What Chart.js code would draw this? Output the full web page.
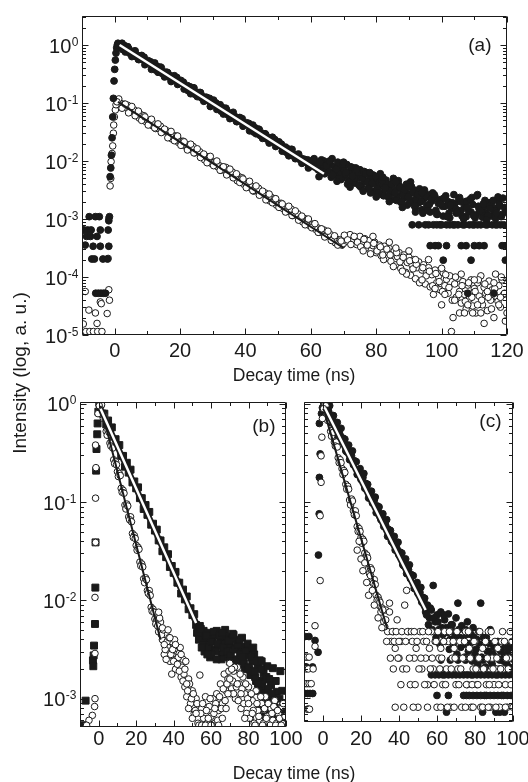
<!DOCTYPE html>
<html><head><meta charset="utf-8">
<script src="https://cdn.jsdelivr.net/npm/chart.js@4.4.1/dist/chart.umd.min.js"></script>
<style>
html,body{margin:0;padding:0;background:#fff;width:528px;height:782px;overflow:hidden}
canvas{position:absolute;left:0;top:0}
</style></head><body>
<canvas id="ca" width="528" height="782"></canvas>
<canvas id="cb" width="528" height="782"></canvas>
<canvas id="cc" width="528" height="782"></canvas>
<script>
// ---------------- DATA (log10 of normalised intensity) ----------------
// Panel (a): main traces sampled every 0.5 ns from 1 ns
const aStep = 0.5, aStart = 1;
const aFilledLog = [
0.03,-0.02,0.00,-0.08,-0.01,-0.07,-0.03,-0.14,-0.11,-0.11,
-0.11,-0.20,-0.18,-0.25,-0.19,-0.25,-0.21,-0.31,-0.29,-0.29,
-0.29,-0.38,-0.35,-0.43,-0.37,-0.43,-0.38,-0.49,-0.47,-0.47,
-0.47,-0.55,-0.53,-0.61,-0.55,-0.60,-0.56,-0.67,-0.65,-0.65,
-0.64,-0.73,-0.71,-0.79,-0.72,-0.78,-0.74,-0.85,-0.82,-0.82,
-0.82,-0.91,-0.89,-0.96,-0.90,-0.96,-0.92,-1.02,-1.00,-1.00,
-1.00,-1.09,-1.06,-1.14,-1.08,-1.14,-1.09,-1.20,-1.18,-1.18,
-1.18,-1.26,-1.24,-1.32,-1.26,-1.31,-1.27,-1.38,-1.36,-1.36,
-1.35,-1.44,-1.42,-1.50,-1.43,-1.49,-1.45,-1.56,-1.53,-1.53,
-1.53,-1.62,-1.60,-1.67,-1.61,-1.67,-1.63,-1.73,-1.71,-1.71,
-1.71,-1.80,-1.77,-1.85,-1.79,-1.85,-1.80,-1.91,-1.89,-1.89,
-1.89,-1.97,-1.95,-2.03,-1.97,-2.02,-1.98,-2.09,-2.07,
-2.05,-1.96,-2.08,-2.02,-2.27,-2.04,-2.12,-2.00,-2.15,-2.09,
-2.18,-2.06,-1.96,-2.20,-2.11,-2.25,-2.08,-2.19,-2.30,-2.14,
-2.24,-2.06,-2.33,-2.18,-2.27,-2.12,-2.38,-2.22,-2.30,-2.15,
-2.42,-2.26,-2.35,-2.20,-2.47,-2.31,-2.40,-2.24,-2.52,-2.36,
-2.45,-2.29,-2.57,-2.40,-2.50,-2.33,-2.61,-2.44,-2.55,-2.38,
-2.66,-2.49,-2.60,-2.42,-2.71,-2.53,-2.64,-2.46,-2.76,-2.57,
-2.36,-2.68,-2.50,-2.80,-2.61,-2.72,-2.54,-2.84,-2.65,-3.10,
-2.76,-2.58,-2.88,-2.69,-3.10,-2.62,-2.92,-2.73,-3.10,-2.66,
-2.95,-2.78,-3.10,-2.70,-2.98,-2.82,-3.10,-2.74,-2.90,-3.10,
-2.63,-2.85,-3.10,-2.77,-2.96,-2.69,-3.10,-2.88,-2.75,-3.10,
-2.93,-2.58,-2.83,-3.10,-2.97,-2.79,-2.90,-3.10,-2.72,-2.95,
-3.10,-2.86,-2.99,-2.81,-2.71,-3.10,-2.92,-3.10,-2.84
];
// second filled decay trace, every 1 ns from 1.25 ns
const aFilledDecay2Start = 1.25;
const aFilledDecay2Log = [
-0.05,0.03,-0.12,-0.06,-0.20,-0.10,-0.25,-0.18,-0.34,-0.27,
-0.42,-0.31,-0.47,-0.39,-0.55,-0.48,-0.63,-0.53,-0.68,-0.61,
-0.76,-0.70,-0.84,-0.74,-0.89,-0.82,-0.97,-0.91,-1.06,-0.95,
-1.11,-1.03,-1.19,-1.12,-1.27,-1.16,-1.32,-1.25,-1.40,-1.34,
-1.48,-1.38,-1.53,-1.46,-1.61,-1.55,-1.69,-1.59,-1.75,-1.67,
-1.83,-1.76,-1.91,-1.80,-1.96,-1.88,-2.04,-1.98,-2.12
];
// extra filled tail traces, every 1 ns
const aFilledTail2Start = 62.25;
const aFilledTail2Log = [
-2.15,-1.98,-2.22,-2.05,-2.28,-2.10,-2.02,-2.32,-2.16,-2.40,
-2.10,-2.30,-2.20,-2.45,-2.18,-2.36,-2.55,-2.30,-2.48,-2.22,
-2.60,-2.40,-2.52,-2.30,-2.68,-2.45,-2.58,-2.40,-2.72,-2.55,
-2.66,-2.48,-2.90,-2.62,-2.75,-2.55,-2.85,-2.68,-2.78,-2.60,
-2.90,-2.72,-2.82,-2.66,-2.95,-2.70,-2.86,-2.63,-2.98,-2.78,
-2.88,-2.68,-2.94,-2.76,-2.85,-2.62,-2.96,-2.80
];
const aFilledTail3Start = 60.75;
const aFilledTail3Log = [
-1.98,-2.10,-2.02,-2.18,-2.08,-2.00,-2.24,-2.14,-2.30,-2.06,
-2.20,-2.36,-2.26,-2.12,-2.42,-2.30,-2.22,-2.48,-2.38,-2.26,
-2.54,-2.34,-2.46,-2.62,-2.40,-2.55,-2.34,-2.70,-2.50,-2.62,
-2.44,-2.78,-2.58,-2.70,-2.50,-2.85,-2.66,-2.58,-2.92,-2.74,
-2.64,-2.96,-2.76,-2.58,-2.88,-2.70,-3.00,-2.80,-2.66,-2.94,
-2.60,-2.86,-2.74,-3.02,-2.82,-2.68,-2.90,-2.76,-2.64,-2.88
];
const aOpenLog = [
-0.95,-1.03,-1.01,-1.08,-1.02,-1.08,-1.04,-1.15,-1.12,-1.12,
-1.12,-1.21,-1.19,-1.26,-1.20,-1.26,-1.22,-1.32,-1.30,-1.30,
-1.30,-1.39,-1.36,-1.44,-1.38,-1.44,-1.40,-1.50,-1.48,-1.48,
-1.48,-1.57,-1.54,-1.62,-1.56,-1.62,-1.57,-1.68,-1.66,-1.66,
-1.66,-1.74,-1.72,-1.80,-1.74,-1.80,-1.75,-1.86,-1.84,-1.84,
-1.84,-1.92,-1.90,-1.98,-1.92,-1.97,-1.93,-2.04,-2.02,-2.02,
-2.01,-2.10,-2.08,-2.16,-2.10,-2.15,-2.11,-2.22,-2.20,-2.20,
-2.19,-2.28,-2.26,-2.34,-2.27,-2.33,-2.29,-2.40,-2.38,-2.37,
-2.37,-2.46,-2.44,-2.52,-2.45,-2.51,-2.47,-2.58,-2.56,-2.55,
-2.55,-2.64,-2.62,-2.69,-2.63,-2.69,-2.65,-2.76,-2.73,-2.73,
-2.73,-2.82,-2.80,-2.87,-2.81,-2.87,-2.83,-2.94,-2.91,-2.91,
-2.91,-3.00,-2.97,-3.05,-2.99,-3.05,-3.01,-3.11,-3.09,-3.09,
-3.09,-3.18,-3.15,-3.23,-3.17,-3.23,-3.19,-3.29,-3.27,-3.27,
-3.27,-3.36,-3.33,-3.41,-3.35,-3.41,-3.36,-3.45,-3.42,
-3.30,-3.38,-3.32,-3.27,-3.40,-3.35,-3.31,-3.44,-3.36,-3.30,
-3.47,-3.39,-3.34,-3.50,-3.42,-3.37,-3.54,-3.46,-3.40,-3.58,
-3.49,-3.45,-3.63,-3.53,-3.47,-3.68,-3.57,-3.51,-3.73,-3.60,
-3.55,-3.79,-3.65,-3.58,-3.85,-3.70,-3.62,-3.92,-3.75,-3.66,
-3.97,-3.80,-3.70,-4.03,-3.84,-3.74,-4.08,-3.88,-3.79,-4.12,
-3.92,-3.84,-4.17,-3.96,-4.30,-3.88,-4.10,-3.99,-4.22,-4.48,
-3.93,-4.15,-4.04,-4.28,-3.98,-4.94,-4.70,-4.12,-4.35,-4.02,
-4.25,-4.45,-4.08,-4.30,-4.55,-4.14,-4.38,-4.05,-4.50,-4.20,
-4.62,-4.10,-4.33,-3.98,-4.48,-4.18,-4.28,-4.58,-4.07,-4.40,
-4.22,-4.70,-3.95,-4.36,-4.15,-4.52,-4.05,-4.30,-4.76
];
const aOpenDecay2Start = 1.25;
const aOpenDecay2Log = [
-0.93,-1.09,-1.02,-1.17,-1.06,-1.22,-1.14,-1.30,-1.24,-1.38,
-1.28,-1.43,-1.36,-1.51,-1.45,-1.60,-1.49,-1.65,-1.57,-1.73,
-1.67,-1.81,-1.71,-1.86,-1.79,-1.94,-1.88,-2.03,-1.92,-2.08,
-2.00,-2.16,-2.10,-2.24,-2.14,-2.29,-2.22,-2.37,-2.31,-2.46,
-2.35,-2.51,-2.43,-2.59,-2.52,-2.67,-2.57,-2.72,-2.65,-2.80,
-2.74,-2.88,-2.78,-2.94,-2.86,-3.02,-2.95,-3.10,-3.00,-3.15,
-3.08,-3.23,-3.17,-3.31,-3.21,-3.37,-3.29,-3.45,-3.38
];
const aOpenTail2Start = 70.25;
const aOpenTail2Log = [
-3.28,-3.36,-3.44,-3.30,-3.40,-3.48,-3.35,-3.45,-3.60,-3.42,
-3.55,-3.48,-3.70,-3.52,-3.62,-3.82,-3.58,-3.74,-3.66,-3.95,
-3.72,-3.86,-3.78,-4.10,-3.84,-3.98,-3.90,-4.15,-3.94,-4.08,
-4.25,-3.96,-4.18,-4.40,-4.00,-4.30,-4.15,-4.42,-4.10,-4.35,
-4.25,-4.05,-4.40,-4.12,-4.35,-4.55,-4.20,-4.42,-4.00,-4.28
];
// extra (time ns, log10) points: rise, pre-pulse background, quantised tail levels
const aFilledExtra = [
[-1.4,-2.27],[-1.2,-2.12],[-1.0,-1.90],[-0.8,-1.60],[-0.6,-1.24],[-0.4,-0.92],[-0.2,-0.62],[0.0,-0.42],[0.2,-0.26],[0.4,-0.14],[0.6,-0.05],[0.8,0.00],
[-9.8,-3.19],[-9.4,-3.19],[-9.0,-3.45],[-8.6,-3.30],[-8.3,-3.19],[-7.8,-2.96],[-7.4,-3.30],[-7.2,-3.19],[-7.0,-3.69],[-6.6,-3.47],[-6.2,-3.69],[-5.9,-2.96],[-5.8,-4.28],[-5.4,-3.30],[-5.0,-4.28],[-4.7,-2.96],[-4.4,-3.19],[-4.4,-3.47],[-4.2,-4.28],[-3.6,-3.69],[-3.4,-4.28],[-2.8,-4.28],[-2.2,-3.69],[-2.0,-3.19],[-1.8,-3.03],[-1.8,-3.47],[-1.6,-2.96],
[96.5,-3.46],[98,-3.46],[99,-3.46],[100.5,-3.71],[101.5,-3.46],[104,-3.10],[106,-3.46],[107.5,-3.46],[108,-4.28],[109,-3.71],[110,-3.46],[111.5,-3.46],[113,-3.46],[116,-4.28],[118.5,-3.46],[119.5,-3.71],[120,-3.46],[102.5,-3.10],[91,-3.10],[93,-3.10],[96,-3.10],[98.5,-3.10],[100,-3.10],[107,-3.10],[109.5,-3.10],[111,-3.10],[113.5,-3.10],[116.5,-3.10],[117,-3.10],
[68,-2.35],[72,-2.45],[76,-2.52],[80,-2.62],[84,-2.70],[88,-2.80],[92,-2.88],[70,-2.02],[74,-2.15],[78,-2.20],[82,-2.28],[86,-2.36],[90,-2.45],[94,-2.55]
];
const aOpenExtra = [
[-1.4,-2.43],[-1.2,-2.30],[-1.1,-2.01],[-0.8,-1.87],[-0.6,-1.74],[-0.4,-1.52],[-0.3,-1.38],[-0.1,-1.24],[0.2,-1.12],[0.4,-1.03],[0.7,-0.98],
[-9.6,-4.81],[-9.0,-4.25],[-8.8,-4.94],[-7.9,-4.57],[-7.6,-4.94],[-6.5,-4.94],[-5.9,-4.62],[-5.4,-4.80],[-5.2,-4.94],[-4.4,-4.43],[-4.1,-4.46],[-3.9,-4.94],[-2.3,-4.63],[-1.8,-4.22],[-2.0,-3.68],[-1.8,-2.99],[-1.6,-4.40],
[76,-3.55],[79,-3.30],[82,-3.62],[84,-3.40],[86,-3.50],[88,-3.90],[90,-3.55],[92,-3.70],[94,-4.05],[96,-3.70],[98,-4.20],[100,-3.85],[101,-4.30],[104,-4.40],[106,-3.95],[108,-4.48],[110,-4.05],[112,-4.62],[114,-4.25],[116,-4.10],[118,-4.35],[120,-4.62],[105.5,-4.62],[107,-4.62],[109.5,-4.62],[111,-4.48],[117.5,-4.48],[113,-4.80]
];
const aFilledFit = [[1.5,0.00],[64,-2.22]];
const aOpenFit = [[1,-0.98],[70,-3.50]];

// Panels (b) and (c): main traces sampled every 1 ns from 1 ns
const bcStep = 1, bcStart = 1;
const bSquareLog = [
0.00,-0.10,-0.10,-0.21,-0.17,-0.27,-0.24,-0.37,-0.36,-0.43,
-0.42,-0.53,-0.53,-0.64,-0.60,-0.70,-0.67,-0.80,-0.79,-0.86,
-0.85,-0.96,-0.96,-1.07,-1.03,-1.13,-1.10,-1.23,-1.22,-1.29,
-1.28,-1.39,-1.39,-1.50,-1.46,-1.56,-1.53,-1.66,-1.65,-1.72,
-1.71,-1.82,-1.82,-1.93,-1.89,-1.99,-1.96,-2.09,-2.08,-2.15,
-2.14,-2.25,-2.30,-2.26,-2.36,-2.31,-2.42,-2.33,-2.45,-2.38,
-2.50,-2.35,-2.31,-2.46,-2.40,-2.55,-2.43,-2.37,-2.58,-2.45,
-2.39,-2.60,-2.48,-2.42,-2.65,-2.52,-2.47,-2.70,-2.56,-2.50,
-2.76,-2.62,-2.55,-2.82,-2.68,-2.61,-2.88,-2.74,-2.95,-2.67,
-3.02,-2.86,-2.69,-3.09,-2.93,-3.14,-2.72,-2.92,-3.20,-3.05
];
const bSquareTail2Start = 52.5;
const bSquareTail2Log = [
-2.33,-2.40,-2.29,-2.45,-2.52,-2.36,-2.48,-2.58,-2.42,-2.32,
-2.52,-2.44,-2.36,-2.60,-2.48,-2.30,-2.52,-2.41,-2.56,-2.34,
-2.50,-2.62,-2.45,-2.55,-2.38,-2.64,-2.52,-2.44,-2.70,-2.58,
-2.48,-2.78,-2.62,-2.92,-2.70,-2.82,-3.00,-2.78,-2.90,-3.12,
-2.95,-3.05,-2.82,-3.18,-3.00,-3.22,-3.08,-3.25
];
const bOpenLog = [
0.00,-0.11,-0.13,-0.28,-0.27,-0.40,-0.40,-0.57,-0.59,-0.69,
-0.71,-0.86,-0.88,-1.03,-1.02,-1.15,-1.15,-1.32,-1.34,-1.44,
-1.46,-1.61,-1.63,-1.78,-1.77,-1.90,-1.90,-2.07,-2.09,-2.19,
-2.20,-2.32,-2.22,-2.40,-2.55,-2.35,-2.48,-2.62,-2.42,-2.48,
-2.70,-2.52,-2.54,-2.78,-2.60,-2.88,-2.98,-2.80,-3.05,-2.92,
-3.15,-3.00,-3.25,-2.76,-3.10,-3.20,-2.98,-3.25,-3.08,-3.18,
-3.00,-3.25,-2.95,-3.12,-2.85,-3.05,-2.75,-2.92,-2.80,-2.64,
-2.90,-2.72,-3.00,-2.68,-2.85,-3.10,-2.78,-2.95,-3.15,-2.88,
-3.20,-3.02,-3.25,-2.92,-3.12,-3.22,-3.05,-3.25,-2.98,-3.18,
-3.25,-3.10,-3.22,-3.02,-3.25,-3.15,-3.22,-3.08,-3.25,-3.20
];
const bOpenHalfStart = 1.5;
const bOpenHalfLog = [
-0.01,-0.15,-0.16,-0.32,-0.29,-0.43,-0.45,-0.61,-0.62,-0.74,
-0.73,-0.90,-0.91,-1.07,-1.04,-1.18,-1.20,-1.36,-1.37,-1.49,
-1.48,-1.65,-1.66,-1.82,-1.79,-1.93,-1.95,-2.11,-2.12,-2.24,
-2.26,-2.18,-2.35,-2.30,-2.50,-2.42,-2.38,-2.55,-2.50,-2.40,
-2.60,-2.58,-2.48,-2.68,-2.75,-2.62,-2.92,-2.85,-3.00,-2.95,
-3.12,-3.05,-3.27,-3.15,-3.05,-3.27,-3.12,-3.20,-3.00,-3.27,
-3.15,-3.05,-3.22,-2.98,-3.10,-2.90,-3.02,-2.85,-2.72,-2.95,
-2.82,-2.68,-2.88,-3.02,-2.75,-2.90,-3.05,-2.85,-3.00,-3.20,
-2.95,-3.12,-3.27,-3.05,-3.18,-2.98,-3.27,-3.10,-3.20,-3.05,
-3.27,-3.15,-3.08,-3.27,-3.12,-3.20,-3.27,-3.05,-3.18
];
const bSquareExtra = [
[-7.9,-3.27],[-7.0,-3.02],[-3.1,-2.61],[-2.9,-2.67],[-2.7,-2.56],[-2.5,-2.46],[-2.0,-2.24],[-1.8,-1.87],[-1.7,-1.41],[-1.4,-0.68],[-1.2,-0.46],[-0.8,-0.31],[-0.6,-0.20],[-0.2,-0.08],[0.3,0.01],
[86,-3.10],[88,-3.18],[90,-3.22],[92,-3.14],[93,-3.25],[95,-3.20],[97,-3.28],[98,-3.12],[99,-3.27],[100,-3.18],[89,-3.29],[94,-3.27],
[60,-2.55],[66,-2.33],[70,-2.62],[75,-2.40],[80,-2.68],[55,-2.48],[58,-2.55],[63,-2.60],[72,-2.35],[77,-2.58],[83,-2.72],[85,-2.85],[87,-2.62],[91,-2.80]
];
const bOpenExtra = [
[-1.7,-0.42],[-1.5,-0.65],[-1.7,-0.96],[-1.7,-1.41],[-2.0,-1.97],[-2.0,-2.54],[-2.0,-3.00],[-2.2,-3.08],[-3.4,-3.17],[-5.2,-3.22],[-6.5,-3.27],[-0.4,-0.10],[0.3,-0.02],
[32,-2.12],[34,-2.28],[35,-2.45],[37,-2.30],[38,-2.38],[40,-2.62],[41,-2.45],[42,-2.65],[43,-2.72],[44,-2.55],[45,-2.82],[46,-2.70],[47,-2.85],[36,-2.60],[39,-2.75],
[48,-3.10],[50,-3.20],[52,-3.15],[55,-3.27],[57,-3.27],[60,-3.27],[62,-3.10],[64,-3.27],[66,-3.20],[68,-3.10],[70,-2.80],[72,-2.95],[74,-2.85],[76,-2.95],[78,-3.20],[80,-3.05],[82,-3.15],[71,-2.70],[69,-2.95]
];
const bSquareFit = [[1,-0.05],[52,-2.23]];
const bOpenFit = [[1,-0.02],[33,-2.40]];

const cFilledLog = [
0.00,-0.09,-0.08,-0.19,-0.15,-0.23,-0.20,-0.33,-0.32,-0.38,
-0.37,-0.48,-0.46,-0.57,-0.53,-0.62,-0.59,-0.72,-0.71,-0.77,
-0.75,-0.86,-0.85,-0.96,-0.92,-1.01,-0.98,-1.11,-1.09,-1.15,
-1.14,-1.25,-1.24,-1.35,-1.31,-1.40,-1.36,-1.49,-1.48,-1.54,
-1.53,-1.64,-1.63,-1.73,-1.69,-1.78,-1.75,-1.88,-1.87,-1.93,
-1.92,-2.02,-2.01,-2.12,-2.05,-2.18,-2.10,-1.85,-2.22,-2.15,
-2.30,-2.12,-2.35,-2.20,-2.28,-2.14,-2.40,-2.25,-2.32,-2.18,
-2.03,-2.38,-2.26,-2.45,-2.30,-2.22,-2.50,-2.35,-2.28,-2.55,
-2.40,-2.32,-2.03,-2.45,-2.60,-2.38,-2.52,-2.30,-2.65,-2.48,
-2.58,-2.42,-2.70,-2.50,-2.62,-2.45,-2.55,-2.68,-2.48,-2.60
];
const cFilledDecay2Start = 1.5;
const cFilledDecay2Log = [
0.00,-0.06,-0.02,-0.12,-0.12,-0.25,-0.19,-0.29,-0.25,-0.35,
-0.36,-0.49,-0.42,-0.52,-0.48,-0.58,-0.59,-0.72,-0.66,-0.76,
-0.71,-0.81,-0.82,-0.95,-0.89,-0.99,-0.95,-1.04,-1.05,-1.18,
-1.12,-1.22,-1.18,-1.28,-1.29,-1.41,-1.35,-1.45,-1.41,-1.51,
-1.52,-1.65,-1.58,-1.68,-1.64,-1.74,-1.75,-1.88,-1.82,-1.92,
-1.87,-1.97,-1.98
];
const cFilledTail2Start = 54.5;
const cFilledTail2Log = [
-2.15,-2.25,-2.08,-2.30,-2.18,-2.38,-2.22,-2.45,-2.28,-2.15,
-2.42,-2.33,-2.50,-2.25,-2.45,-2.36,-2.55,-2.30,-2.48,-2.40,
-2.58,-2.35,-2.52,-2.44,-2.62,-2.38,-2.50,-2.66,-2.45,-2.58,
-2.38,-2.68,-2.52,-2.44,-2.62,-2.55,-2.70,-2.48,-2.60,-2.52,
-2.72,-2.56,-2.64,-2.50,-2.70,-2.58
];
const cOpenLog = [
-0.01,-0.12,-0.14,-0.28,-0.27,-0.39,-0.39,-0.55,-0.57,-0.66,
-0.68,-0.82,-0.84,-0.98,-0.97,-1.09,-1.09,-1.25,-1.27,-1.36,
-1.38,-1.52,-1.54,-1.68,-1.67,-1.79,-1.79,-1.95,-1.97,-2.06,
-2.08,-2.22,-2.10,-2.32,-2.03,-2.42,-2.32,-2.49,-2.20,-2.59,
-2.42,-2.70,-2.05,-1.90,-2.32,-2.86,-2.42,-2.59,-2.49,-3.09,
-2.32,-2.70,-2.42,-2.59,-2.86,-2.49,-2.32,-2.70,-2.42,-3.09,
-2.59,-2.49,-2.86,-2.32,-2.70,-2.42,-3.09,-2.59,-2.49,-2.86,
-2.70,-2.42,-3.09,-2.59,-2.32,-2.86,-2.49,-3.09,-2.70,-2.42,
-2.86,-2.59,-3.09,-2.49,-2.70,-2.86,-2.32,-3.09,-2.59,-2.86,
-2.70,-2.49,-3.09,-2.42,-2.70,-2.86,-3.09,-2.59,-2.32,-2.86
];
const cOpenHalfStart = 1.5;
const cOpenHalfLog = [
-0.02,-0.17,-0.17,-0.33,-0.29,-0.43,-0.44,-0.60,-0.60,-0.72,
-0.70,-0.87,-0.87,-1.03,-0.99,-1.13,-1.14,-1.30,-1.30,-1.42,
-1.40,-1.57,-1.57,-1.73,-1.69,-1.83,-1.84,-2.00,-2.00,-2.12,
-2.10,-2.27
];
const cFilledExtra = [
[-4.2,-2.41],[-2.6,-2.53],[-2.4,-1.54],[-2.0,-1.12],[-1.9,-0.75],[-1.5,-0.51],[-1.9,-0.20],[-0.8,-0.10],[-0.3,-0.04],[0.4,0.01],
[-9.5,-2.37],[-7.4,-2.37],[-9.5,-2.68],[-5.5,-2.68],[-9.5,-2.95],[-8.1,-2.95],[-6.8,-2.95],[-5.4,-2.95],[-8.8,-2.68],
[57,-2.76],[59,-2.76],[61,-2.76],[63,-2.76],[64,-2.76],[66,-2.76],[68,-2.76],[70,-2.76],[72,-2.76],[74,-2.76],[76,-2.76],[78,-2.76],
[79,-2.76],[81,-2.76],[83,-2.76],[85,-2.76],[87,-2.76],[89,-2.76],[91,-2.76],[92,-2.76],[94,-2.76],[96,-2.76],[98,-2.76],[100,-2.76],
[60,-2.97],[66,-2.97],[74,-2.97],[75.5,-2.97],[77,-2.97],[79,-2.97],[81,-2.97],[83,-2.97],[85,-2.97],[86,-2.97],[88,-2.97],[90,-2.97],
[92,-2.97],[94,-2.97],[95,-2.97],[97,-2.97],[99,-2.97],
[65,-3.14],[84,-3.14],[91,-3.14],[93,-3.14],[95.5,-3.14],
[62,-2.61],[67,-2.61],[71,-2.61],[75,-2.61],[80,-2.61],[84,-2.61],[88,-2.61],[93,-2.61],[97,-2.61]
];
const cOpenExtra = [
[-0.6,-0.34],[-1.0,-0.53],[-1.0,-0.80],[-1.5,-1.14],[-1.5,-1.80],[-4.2,-2.26],[-0.3,-0.15],[0.3,-0.05],
[-9.5,-2.58],[-8.4,-2.58],[-7.3,-2.58],[-8.8,-2.70],[-7.7,-2.70],[-9.5,-2.85],[-8.4,-2.85],[-7.3,-2.85],[-6.2,-2.85],[-8.2,-3.11],[-7.7,-3.11],[-7.1,-3.11],[-4.2,-2.47],[-5.2,-2.70],
[18,-1.49],[19,-1.40],[20,-1.58],[21,-1.70],[22,-1.62],[23,-1.82],[24,-1.95],[25,-1.75],[26,-1.90],[27,-2.05],[29,-2.18],[30,-2.02],[31,-2.28],[33,-2.20],[35,-2.12],
[36.5,-2.32],[38.5,-2.32],[41.5,-2.32],[44.5,-2.32],[46.5,-2.32],[48,-2.32],[52.5,-2.32],[55.5,-2.32],[60.5,-2.32],[66.5,-2.32],[70.5,-2.32],[76.5,-2.32],[82.5,-2.32],[88.5,-2.32],[94.5,-2.32],[98.5,-2.32],
[33.5,-2.42],[37.5,-2.42],[40,-2.42],[43.5,-2.42],[49.5,-2.42],[54.5,-2.42],[59.5,-2.42],[63.5,-2.42],[68.5,-2.42],[74.5,-2.42],[79.5,-2.42],[85.5,-2.42],[90.5,-2.42],[95.5,-2.42],[99.5,-2.42],
[35.5,-2.59],[39.5,-2.59],[45.5,-2.59],[51.5,-2.59],[57.5,-2.59],[62.5,-2.59],[69.5,-2.59],[73.5,-2.59],[77.5,-2.59],[86.5,-2.59],[91.5,-2.59],[96.5,-2.59],
[37,-2.70],[44,-2.70],[50.5,-2.70],[56.5,-2.70],[61.5,-2.70],[67.5,-2.70],[72.5,-2.70],[80.5,-2.70],[84.5,-2.70],[89.5,-2.70],[93.5,-2.70],[97.5,-2.70],
[41,-2.86],[48.5,-2.86],[53.5,-2.86],[58.5,-2.86],[64.5,-2.86],[71.5,-2.86],[75.5,-2.86],[78.5,-2.86],[81.5,-2.86],[87.5,-2.86],[92.5,-2.86],[99,-2.86],
[38,-3.09],[42.5,-3.09],[47.5,-3.09],[55,-3.09],[62,-3.09],[65.5,-3.09],[69,-3.09],[75,-3.09],[79,-3.09],[84,-3.09],[87,-3.09],[91,-3.09],[96,-3.09],[100,-3.09]
];
const cFilledFit = [[1,-0.04],[54,-2.10]];
const cOpenFit = [[1,-0.10],[33.8,-2.29]];

// tick labels and panel tags
const xLabelsA = [0,20,40,60,80,100,120];
const xLabelsBC = [0,20,40,60,80,100];
const yDecadesA = [0,-1,-2,-3,-4,-5];
const yDecadesB = [0,-1,-2,-3];
const panelTags = ['(a)','(b)','(c)'];

// ---------------- helpers ----------------
const INK = '#1a1a1a';
const FONT = '"Liberation Sans", Arial, Helvetica, sans-serif';
function trace(start, step, logs){ return logs.map((v,i)=>({x:start+i*step, y:Math.pow(10,v)})); }
function pts(list){ return list.map(p=>({x:p[0], y:Math.pow(10,p[1])})); }

function filledSet(data, order, style){
  return {data, order, pointStyle: style||'circle', pointRadius: style==='rect'?4.9:3.4, pointBackgroundColor:INK, pointBorderColor:INK,
    backgroundColor:INK, borderColor:INK, pointBorderWidth:1, showLine:false};
}
function openSet(data, order){
  return {data, order, pointStyle:'circle', pointRadius:3.3, pointBackgroundColor:'#fff', pointBorderColor:INK,
    backgroundColor:'#fff', borderColor:INK, pointBorderWidth:1, showLine:false};
}
function fitSet(data, order, color, width){
  return {data, order, showLine:true, pointRadius:0, borderColor:color, borderWidth:width, borderCapStyle:'butt', fill:false};
}

const frame = {
  id:'frame',
  afterDatasetsDraw(chart, args, o){
    const ctx = chart.ctx, a = chart.chartArea, xs = chart.scales.x, ys = chart.scales.y;
    const L = Math.round(a.left)+0.5, R = Math.round(a.right)-0.5, T = Math.round(a.top)+0.5, B = Math.round(a.bottom)-0.5;
    ctx.save();
    ctx.strokeStyle = INK; ctx.lineWidth = 1;
    ctx.beginPath();
    ctx.rect(L, T, R-L, B-T);
    for (let v = Math.ceil(xs.min/10)*10; v <= xs.max+1e-6; v += 10) {
      const px = Math.round(xs.getPixelForValue(v))+0.5;
      const len = (v % 20 === 0) ? 6 : 3.5;
      ctx.moveTo(px, B); ctx.lineTo(px, B-len);
      ctx.moveTo(px, T); ctx.lineTo(px, T+len);
    }
    const lo = Math.floor(Math.log10(ys.min)), hi = Math.ceil(Math.log10(ys.max));
    for (let d = lo; d <= hi; d++) for (let m = 1; m <= 9; m++) {
      const v = m*Math.pow(10,d);
      if (v < ys.min*0.999 || v > ys.max*1.001) continue;
      const py = Math.round(ys.getPixelForValue(v))+0.5;
      const len = m===1 ? 6 : 3.5;
      ctx.moveTo(L, py); ctx.lineTo(L+len, py);
      ctx.moveTo(R, py); ctx.lineTo(R-len, py);
    }
    ctx.stroke();
    ctx.fillStyle = INK;
    ctx.textBaseline = 'alphabetic';
    ctx.font = '20px '+FONT; ctx.textAlign = 'center';
    (o.xLabels||[]).forEach(v => ctx.fillText(String(v), xs.getPixelForValue(v), o.xLabelBase));
    (o.yDecades||[]).forEach(d => {
      const py = ys.getPixelForValue(Math.pow(10,d));
      const ex = d===0 ? '0' : '-'+(-d);
      ctx.font = '12px '+FONT;
      const ew = ctx.measureText(ex).width;
      const right = L - 4;
      ctx.textAlign = 'left';
      ctx.fillText(ex, right-ew, py+0.5);
      ctx.font = '20px '+FONT; ctx.textAlign = 'right';
      ctx.fillText('10', right-ew-0.5, py+7.5);
    });
    if (o.tag) {
      ctx.font = '19px '+FONT; ctx.textAlign = 'right';
      ctx.fillText(o.tag.text, R - o.tag.dx, T + o.tag.dy);
    }
    (o.titles||[]).forEach(t => {
      ctx.save();
      ctx.font = t.size+'px '+FONT; ctx.textAlign = 'center';
      ctx.translate(t.x, t.y);
      if (t.rot) { ctx.rotate(-Math.PI/2); ctx.textBaseline = 'middle'; }
      ctx.fillText(t.text, 0, 0);
      ctx.restore();
    });
    ctx.restore();
  }
};

function makeChart(id, pad, xr, yr, datasets, frameOpts){
  return new Chart(document.getElementById(id), {
    type:'scatter',
    data:{datasets},
    options:{
      responsive:false, animation:false, events:[],
      layout:{padding:pad},
      plugins:{legend:{display:false}, tooltip:{enabled:false}, frame:frameOpts},
      scales:{
        x:{type:'linear', min:xr[0], max:xr[1], display:false},
        y:{type:'logarithmic', min:yr[0], max:yr[1], display:false}
      }
    },
    plugins:[frame]
  });
}

// ---------------- panel (a) ----------------
makeChart('ca', {left:82, top:16, right:21, bottom:447}, [-10,120], [1e-5, Math.pow(10,0.5)], [
  fitSet(pts(aFilledFit), 0, '#fff', 2.5),
  fitSet(pts(aFilledFit), 1, INK, 6),
  fitSet(pts(aOpenFit), 2, INK, 2),
  filledSet(trace(aStart, aStep, aFilledLog).concat(
    trace(aFilledDecay2Start, 1, aFilledDecay2Log),
    trace(aFilledTail2Start, 1, aFilledTail2Log),
    trace(aFilledTail3Start, 1, aFilledTail3Log),
    pts(aFilledExtra)), 3),
  openSet(trace(aStart, aStep, aOpenLog).concat(
    trace(aOpenDecay2Start, 1, aOpenDecay2Log),
    trace(aOpenTail2Start, 1, aOpenTail2Log),
    pts(aOpenExtra)), 4)
], {xLabels:xLabelsA, xLabelBase:357, yDecades:yDecadesA, tag:{text:panelTags[0], dx:15, dy:34},
    titles:[{text:'Decay time (ns)', x:294, y:381, size:17.5}, {text:'Intensity (log, a. u.)', x:21, y:373, rot:true, size:19}]});

// ---------------- panel (b) ----------------
makeChart('cb', {left:80, top:402, right:242, bottom:55}, [-10,100], [5.15e-4, 1.043], [
  fitSet(pts(bSquareFit), 0, '#fff', 2.5),
  fitSet(pts(bSquareFit), 1, INK, 6),
  fitSet(pts(bOpenFit), 2, INK, 2),
  openSet(trace(bcStart, bcStep, bOpenLog).concat(trace(bOpenHalfStart, bcStep, bOpenHalfLog), pts(bOpenExtra)), 3),
  filledSet(trace(bcStart, bcStep, bSquareLog).concat(trace(bSquareTail2Start, bcStep, bSquareTail2Log), pts(bSquareExtra)), 4, 'rect')
], {xLabels:xLabelsBC, xLabelBase:745, yDecades:yDecadesB, tag:{text:panelTags[1], dx:10, dy:29}, titles:[]});

// ---------------- panel (c) ----------------
makeChart('cc', {left:304, top:402, right:15, bottom:60}, [-10,100], [5.75e-4, 1.043], [
  fitSet(pts(cFilledFit), 0, '#fff', 2.5),
  fitSet(pts(cFilledFit), 1, INK, 6),
  fitSet(pts(cOpenFit), 2, INK, 2),
  openSet(trace(bcStart, bcStep, cOpenLog).concat(trace(cOpenHalfStart, bcStep, cOpenHalfLog), pts(cOpenExtra)), 3),
  filledSet(trace(bcStart, bcStep, cFilledLog).concat(
    trace(cFilledDecay2Start, bcStep, cFilledDecay2Log),
    trace(cFilledTail2Start, bcStep, cFilledTail2Log),
    pts(cFilledExtra)), 4)
], {xLabels:xLabelsBC, xLabelBase:745, yDecades:[], tag:{text:panelTags[2], dx:11, dy:24},
    titles:[{text:'Decay time (ns)', x:294, y:779, size:17.5}]});
</script>
</body></html>
